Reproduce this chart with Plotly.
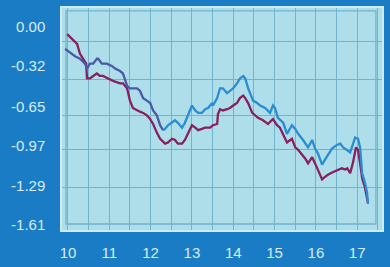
import plotly.graph_objects as go

# ---- data ----
blue_x = [9.93, 10.17, 10.29, 10.41, 10.46, 10.53, 10.61, 10.70, 10.73, 10.82, 10.94, 11.07, 11.14, 11.26, 11.33,
          11.43, 11.50, 11.57, 11.67, 11.74, 11.82, 11.91, 11.99, 12.06, 12.15, 12.23, 12.30, 12.35, 12.42, 12.52,
          12.59, 12.66, 12.76, 12.83, 12.91, 13.00, 13.08, 13.15, 13.24, 13.32, 13.39, 13.49, 13.51, 13.61, 13.68,
          13.75, 13.85, 13.92, 14.00, 14.09, 14.16, 14.24, 14.29, 14.36, 14.41, 14.48, 14.58, 14.65, 14.77, 14.89,
          14.96, 15.01, 15.08, 15.21, 15.30, 15.42, 15.50, 15.57, 15.69, 15.81, 15.91, 15.98, 16.05, 16.15, 16.22,
          16.30, 16.39, 16.51, 16.59, 16.66, 16.76, 16.83, 16.90, 16.95, 17.02, 17.07, 17.12, 17.19, 17.24, 17.26]
blue_y = [-0.18, -0.24, -0.26, -0.30, -0.34, -0.30, -0.30, -0.26, -0.26, -0.30, -0.30, -0.32, -0.34, -0.36, -0.38,
          -0.48, -0.50, -0.50, -0.50, -0.52, -0.58, -0.60, -0.62, -0.68, -0.72, -0.80, -0.84, -0.83, -0.80, -0.78,
          -0.76, -0.78, -0.82, -0.78, -0.72, -0.64, -0.68, -0.70, -0.70, -0.67, -0.66, -0.62, -0.64, -0.58, -0.50,
          -0.50, -0.54, -0.52, -0.50, -0.46, -0.42, -0.40, -0.42, -0.50, -0.54, -0.60, -0.62, -0.64, -0.66, -0.70,
          -0.64, -0.66, -0.74, -0.78, -0.87, -0.80, -0.83, -0.87, -0.92, -0.98, -0.92, -0.99, -1.03, -1.12, -1.08,
          -1.04, -0.99, -0.96, -0.95, -0.98, -1.00, -1.02, -0.95, -0.90, -0.91, -0.98, -1.19, -1.27, -1.35, -1.44]

red_x = [9.98, 10.10, 10.22, 10.29, 10.36, 10.44, 10.46, 10.53, 10.61, 10.70, 10.77, 10.85, 10.97, 11.09, 11.26,
         11.33, 11.43, 11.50, 11.57, 11.67, 11.74, 11.82, 11.91, 11.99, 12.06, 12.15, 12.23, 12.35, 12.42, 12.52,
         12.59, 12.66, 12.76, 12.83, 12.91, 13.00, 13.08, 13.15, 13.24, 13.32, 13.44, 13.51, 13.61, 13.63, 13.68,
         13.75, 13.85, 13.92, 14.00, 14.09, 14.16, 14.24, 14.29, 14.36, 14.46, 14.53, 14.60, 14.72, 14.84, 14.96,
         15.06, 15.13, 15.21, 15.30, 15.42, 15.50, 15.57, 15.67, 15.74, 15.81, 15.91, 15.98, 16.05, 16.15, 16.22,
         16.30, 16.42, 16.54, 16.63, 16.71, 16.76, 16.83, 16.90, 16.97, 17.02, 17.07, 17.12, 17.19, 17.24, 17.26]
red_y = [-0.06, -0.10, -0.14, -0.22, -0.26, -0.30, -0.42, -0.42, -0.40, -0.38, -0.40, -0.40, -0.42, -0.44, -0.46,
         -0.46, -0.50, -0.60, -0.66, -0.68, -0.69, -0.70, -0.72, -0.75, -0.79, -0.86, -0.91, -0.95, -0.94, -0.91,
         -0.92, -0.95, -0.95, -0.92, -0.86, -0.80, -0.82, -0.84, -0.83, -0.82, -0.82, -0.80, -0.79, -0.71, -0.67,
         -0.68, -0.67, -0.66, -0.64, -0.62, -0.58, -0.56, -0.58, -0.62, -0.70, -0.72, -0.74, -0.76, -0.79, -0.75,
         -0.80, -0.82, -0.88, -0.94, -0.91, -0.98, -1.00, -1.04, -1.07, -1.11, -1.06, -1.11, -1.16, -1.24, -1.22,
         -1.20, -1.18, -1.16, -1.15, -1.16, -1.15, -1.19, -1.10, -0.98, -1.00, -1.11, -1.23, -1.31, -1.38, -1.43]

x_ticks = [10, 11, 12, 13, 14, 15, 16, 17]
y_ticks = [0.00, -0.32, -0.65, -0.97, -1.29, -1.61]
y_ticktext = ["0.00", "-0.32", "-0.65", "-0.97", "-1.29", "-1.61"]
y_grid = [-0.12, -0.425, -0.72, -1.00, -1.306]

split = 27  # blue line turns lighter after this point

fig = go.Figure()
fig.add_trace(go.Scatter(x=red_x, y=red_y, mode="lines",
                         line=dict(color="#8a1f5e", width=2.3), hoverinfo="skip"))
fig.add_trace(go.Scatter(x=blue_x[split - 1:], y=blue_y[split - 1:], mode="lines",
                         line=dict(color="#2a8dd4", width=2.3), hoverinfo="skip"))
fig.add_trace(go.Scatter(x=blue_x[:split], y=blue_y[:split], mode="lines",
                         line=dict(color="#4a5aa6", width=2.3), hoverinfo="skip"))

fig.add_shape(type="rect", xref="paper", yref="paper", x0=0.0125, x1=0.981, y0=0.027, y1=0.987,
              line=dict(color="#72b3cd", width=1.3), layer="below")

fig.update_layout(
    width=390, height=267,
    margin=dict(l=62, r=8, t=6, b=36),
    paper_bgcolor="#1b7cc6",
    plot_bgcolor="#addee9",
    showlegend=False,
    font=dict(family="Liberation Sans, Arial, sans-serif", color="#d6ecfb", size=15),
    xaxis=dict(range=[9.855, 17.6], tickmode="array", tickvals=x_ticks,
               ticktext=[str(v) for v in x_ticks],
               showgrid=True, gridcolor="#72b3cd", gridwidth=1.3,
               minor=dict(dtick=0.5, tick0=10, showgrid=True, gridcolor="#72b3cd", gridwidth=1.3),
               zeroline=False, showline=True, linecolor="#cdebf3", linewidth=1.5, mirror=True,
               ticks="", ticklabelstandoff=8, tickfont=dict(size=15)),
    yaxis=dict(range=[-1.651, 0.152], tickmode="array", tickvals=y_ticks, ticktext=y_ticktext,
               showgrid=False,
               minor=dict(tickmode="array", tickvals=y_grid, showgrid=True, gridcolor="#72b3cd", gridwidth=1.3),
               zeroline=False, showline=True, linecolor="#cdebf3", linewidth=1.5, mirror=True,
               ticks="", ticklabelstandoff=12, tickfont=dict(size=15)),
)

fig.write_html("out.html")
